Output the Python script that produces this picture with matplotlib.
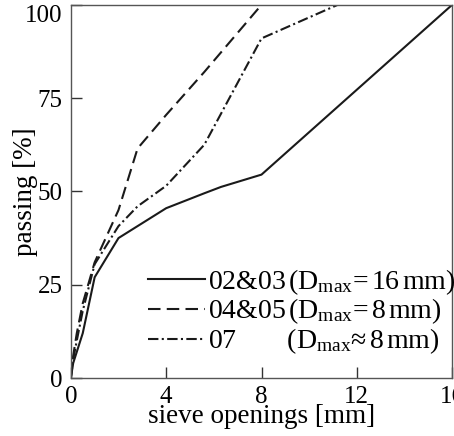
import matplotlib
matplotlib.use("Agg")
import matplotlib.pyplot as plt

plt.rcParams["font.family"] = ["Liberation Serif", "DejaVu Serif"]
plt.rcParams["mathtext.fontset"] = "custom"
plt.rcParams["mathtext.rm"] = "Liberation Serif"
plt.rcParams["mathtext.it"] = "Liberation Serif:italic"

# grading curves (sieve opening in mm, passing in %)
x_0203 = [0, 0.1, 0.5, 1, 2, 4, 5.6, 6.3, 8, 16]
y_0203 = [0, 4, 12, 27, 37.5, 45.5, 49.5, 51.2, 54.5, 100]

x_0405 = [0, 0.1, 0.25, 0.5, 1, 2, 2.8, 4, 5.6, 8, 16]
y_0405 = [0, 6, 12, 20, 31, 45, 61.5, 70.5, 82, 100, 100]

x_07 = [0, 0.1, 0.25, 0.5, 1, 2, 2.8, 4, 5.6, 8, 11.2, 16]
y_07 = [0, 5, 10, 18, 30.5, 40.7, 46, 51.5, 62.5, 91, 100, 100]

labels = [r"02&03$\,$(D$_{\mathrm{max}}$=$\,$16$\,$mm)",
          r"04&05$\,$(D$_{\mathrm{max}}$=$\,$8$\,$mm)",
          r"07$\hspace{2.55}$(D$_{\mathrm{max}}$" + "\u2248" + r"$\,$8$\,$mm)"]

x_ticks = [0, 4, 8, 12, 16]
y_ticks = [0, 25, 50, 75, 100]

fig = plt.figure(figsize=(4.54, 4.36), dpi=100)
ax = fig.add_axes([0.156, 0.133, 0.84, 0.856])

lw = 1.5
c = "#1a1a1a"
ax.plot(x_0203, y_0203, color=c, lw=lw, label=labels[0])
ax.plot(x_0405, y_0405, color=c, lw=lw, dashes=(6, 3), label=labels[1])
ax.plot(x_07, y_07, color=c, lw=lw, dashes=(5, 1.6, 1, 1.6), label=labels[2])

ax.set_xlim(0, 16)
ax.set_ylim(0, 100)
ax.set_xticks(x_ticks)
ax.set_yticks(y_ticks)
ax.tick_params(direction="in", length=8, width=1, color="#333333",
               labelsize=18)
ax.tick_params(axis="x", pad=6)
ax.tick_params(axis="y", pad=6)
ax.get_yticklabels()[-1].set_va("top")
for s in ax.spines.values():
    s.set_color("#555555")
    s.set_linewidth(1)

ax.set_xlabel("sieve openings [mm]", fontsize=19.5, labelpad=-3)
ax.set_ylabel("passing [%]", fontsize=19.5)
ax.yaxis.set_label_coords(-0.087, 0.5)

leg = ax.legend(loc="center left", bbox_to_anchor=(0.202, 0.178), fontsize=20,
                frameon=False, handlelength=2.05, handletextpad=0.12,
                labelspacing=0.0, borderpad=0, borderaxespad=0)

fig.savefig("out.png", dpi=100)
